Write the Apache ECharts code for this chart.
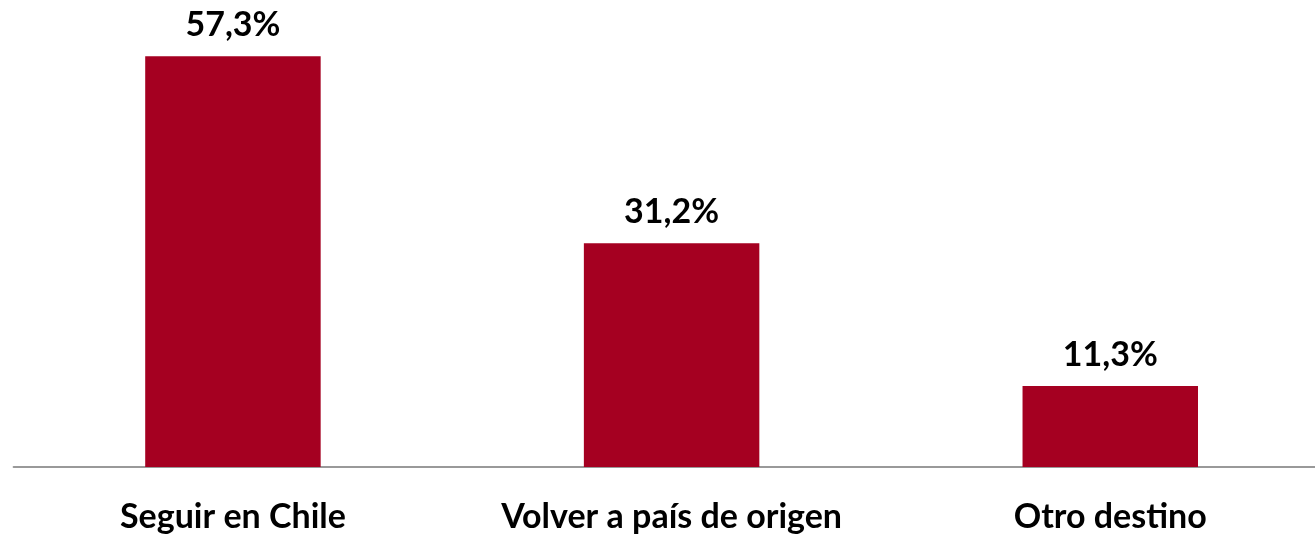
<!DOCTYPE html>
<html>
<head>
<meta charset="utf-8">
<script src="https://cdn.jsdelivr.net/npm/echarts@6/dist/echarts.min.js"></script>
<style>
  html, body { margin: 0; padding: 0; background: #fff; }
  #main { width: 1315px; height: 536px; }
</style>
</head>
<body>
<div id="main"></div>
<script>
// datos del gráfico
var categorias = ['Seguir en Chile', 'Volver a país de origen', 'Otro destino'];
var porcentajes = [57.3, 31.2, 11.3];

var myChart = echarts.init(document.getElementById('main'));
myChart.setOption({
  animation: false,
  grid: { left: 13.6, width: 1316, top: 1, bottom: 69, outerBoundsMode: 'none' },
  xAxis: {
    type: 'category',
    data: categorias,
    axisLine: { lineStyle: { color: '#999999', width: 2 } },
    axisTick: { show: false },
    axisLabel: {
      interval: 0,
      hideOverlap: false,
      color: '#000',
      fontFamily: 'Lato',
      fontWeight: 'bold',
      fontSize: 34,
      margin: 33
    }
  },
  yAxis: {
    type: 'value',
    min: 0,
    max: 65,
    show: false
  },
  series: [{
    type: 'bar',
    data: porcentajes,
    barWidth: '40%',
    itemStyle: { color: '#A50021' },
    label: {
      show: true,
      position: 'top',
      distance: 14,
      color: '#000',
      fontFamily: 'Lato',
      fontWeight: 'bold',
      fontSize: 34,
      formatter: function (p) {
        return p.value.toFixed(1).replace('.', ',') + '%';
      }
    }
  }]
});
</script>
</body>
</html>
